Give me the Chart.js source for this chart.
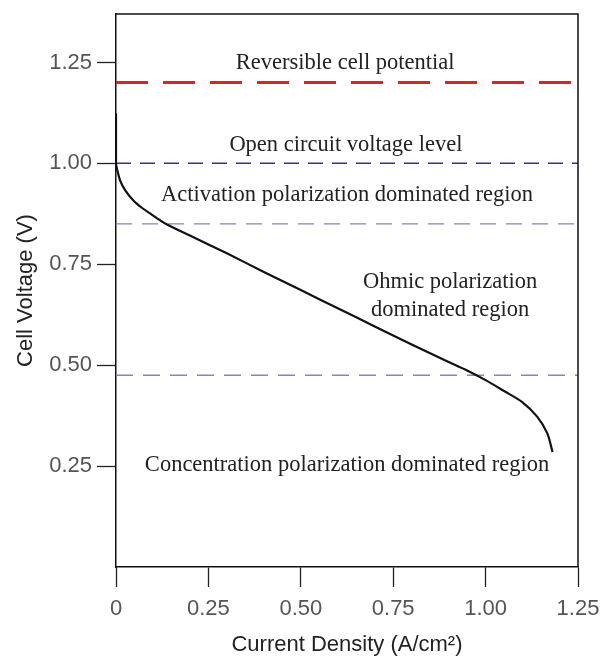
<!DOCTYPE html>
<html>
<head>
<meta charset="utf-8">
<script src="https://cdn.jsdelivr.net/npm/chart.js@4"></script>
<style>
  html, body { margin: 0; padding: 0; background: #ffffff; }
  #wrap { width: 604px; height: 660px; }
</style>
</head>
<body>
<div id="wrap"><canvas id="c" width="604" height="660"></canvas></div>
<script>
// ---- Data ----
const currentDensity = [0, 0, 0.003, 0.011, 0.025, 0.047, 0.07, 0.092, 0.137, 0.2, 0.3, 0.4, 0.5, 0.6, 0.7, 0.8, 0.9, 0.95, 1.0, 1.05, 1.1, 1.14, 1.167, 1.181];
const cellVoltage    = [1.124, 1.0, 0.985, 0.958, 0.933, 0.908, 0.89, 0.876, 0.849, 0.821, 0.777, 0.731, 0.686, 0.641, 0.596, 0.551, 0.508, 0.487, 0.463, 0.436, 0.408, 0.372, 0.331, 0.285];

const levelNames  = ["Reversible cell potential", "Open circuit voltage level", "Activation boundary", "Concentration boundary"];
const levelValues = [1.2, 1.0, 0.85, 0.475];
const levelSpan   = [0, 1.25];

const xTickValues = [0, 0.25, 0.5, 0.75, 1.0, 1.25];
const xTickLabels = ["0", "0.25", "0.50", "0.75", "1.00", "1.25"];
const yTickValues = [0.25, 0.5, 0.75, 1.0, 1.25];
const yTickLabels = ["0.25", "0.50", "0.75", "1.00", "1.25"];

const regionTexts = ["Reversible cell potential", "Open circuit voltage level", "Activation polarization dominated region", "Ohmic polarization", "dominated region", "Concentration polarization dominated region"];

// ---- Styling / placement (not data) ----
const levelStyles = [
  { color: "#d0282c", width: 3,   dash: [32, 15] },
  { color: "#35357e", width: 1.5, dash: [15, 9] },
  { color: "#8484b4", width: 1.3, dash: [16, 10] },
  { color: "#8686b4", width: 1.3, dash: [17, 10] }
];
const textPlacement = [
  { x: 0.62,  y: 1.248 },
  { x: 0.622, y: 1.045 },
  { x: 0.625, y: 0.921 },
  { x: 0.904, y: 0.705 },
  { x: 0.904, y: 0.636 },
  { x: 0.625, y: 0.252 }
];

const datasets = [];
datasets.push({
  label: "Polarization curve",
  data: currentDensity.map((x, i) => ({ x: x, y: cellVoltage[i] })),
  showLine: true,
  borderColor: "#111111",
  borderWidth: 2.2,
  pointRadius: 0,
  tension: 0.3,
  fill: false
});
levelValues.forEach((v, i) => {
  datasets.push({
    label: levelNames[i],
    data: levelSpan.map(x => ({ x: x, y: v })),
    showLine: true,
    borderColor: levelStyles[i].color,
    borderWidth: levelStyles[i].width,
    borderDash: levelStyles[i].dash,
    pointRadius: 0,
    tension: 0,
    fill: false
  });
});

const boxPlugin = {
  id: "box",
  afterDraw(chart) {
    const { ctx, chartArea: a } = chart;
    ctx.save();
    ctx.strokeStyle = "#111";
    ctx.lineWidth = 1.5;
    ctx.beginPath();
    ctx.moveTo(a.left, a.top);
    ctx.lineTo(a.right, a.top);
    ctx.lineTo(a.right, a.bottom);
    ctx.stroke();
    ctx.restore();
  }
};

const textPlugin = {
  id: "regionText",
  afterDatasetsDraw(chart) {
    const { ctx, scales } = chart;
    ctx.save();
    ctx.fillStyle = "#222";
    ctx.font = '22.5px "Liberation Serif", "Times New Roman", serif';
    ctx.textAlign = "center";
    ctx.textBaseline = "middle";
    regionTexts.forEach((t, i) => {
      const p = textPlacement[i];
      ctx.fillText(t, scales.x.getPixelForValue(p.x), scales.y.getPixelForValue(p.y));
    });
    ctx.restore();
  }
};

function zeroPadding(scale) {
  scale.paddingTop = 0; scale.paddingBottom = 0;
  scale.paddingLeft = 0; scale.paddingRight = 0;
}

const tickFont = { family: '"Liberation Sans", Arial, sans-serif', size: 22 };

new Chart(document.getElementById("c"), {
  type: "scatter",
  data: { datasets: datasets },
  options: {
    responsive: false,
    animation: false,
    devicePixelRatio: 1,
    layout: { padding: { top: 14, right: 26, left: 0, bottom: 0 } },
    plugins: { legend: { display: false }, tooltip: { enabled: false } },
    scales: {
      x: {
        type: "linear",
        min: 0, max: 1.25,
        afterBuildTicks(scale) { scale.ticks = xTickValues.map(v => ({ value: v })); },
        afterFit(scale) { scale.height = 93; zeroPadding(scale); },
        ticks: {
          font: tickFont, color: "#555",
          padding: 9,
          maxRotation: 0,
          callback: (v) => { const i = xTickValues.indexOf(v); return i >= 0 ? xTickLabels[i] : ""; }
        },
        grid: { drawOnChartArea: false, drawTicks: true, tickLength: 20, tickColor: "#222", tickWidth: 1.3 },
        border: { display: true, color: "#111", width: 1.5 },
        title: {
          display: true, text: "Current Density (A/cm²)",
          font: { family: '"Liberation Sans", Arial, sans-serif', size: 22 },
          color: "#222", padding: { top: 0, bottom: 2 }
        }
      },
      y: {
        type: "linear",
        min: 0, max: 1.37,
        afterBuildTicks(scale) { scale.ticks = yTickValues.map(v => ({ value: v })); },
        afterFit(scale) { scale.width = 116; zeroPadding(scale); },
        ticks: {
          font: tickFont, color: "#555",
          padding: 5,
          callback: (v) => { const i = yTickValues.indexOf(v); return i >= 0 ? yTickLabels[i] : ""; }
        },
        grid: { drawOnChartArea: false, drawTicks: true, tickLength: 19, tickColor: "#222", tickWidth: 1.3 },
        border: { display: true, color: "#111", width: 1.5 },
        title: {
          display: true, text: "Cell Voltage (V)",
          font: { family: '"Liberation Sans", Arial, sans-serif', size: 22 },
          color: "#222", padding: { top: 13, bottom: 0 }
        }
      }
    }
  },
  plugins: [boxPlugin, textPlugin]
});
</script>
</body>
</html>
